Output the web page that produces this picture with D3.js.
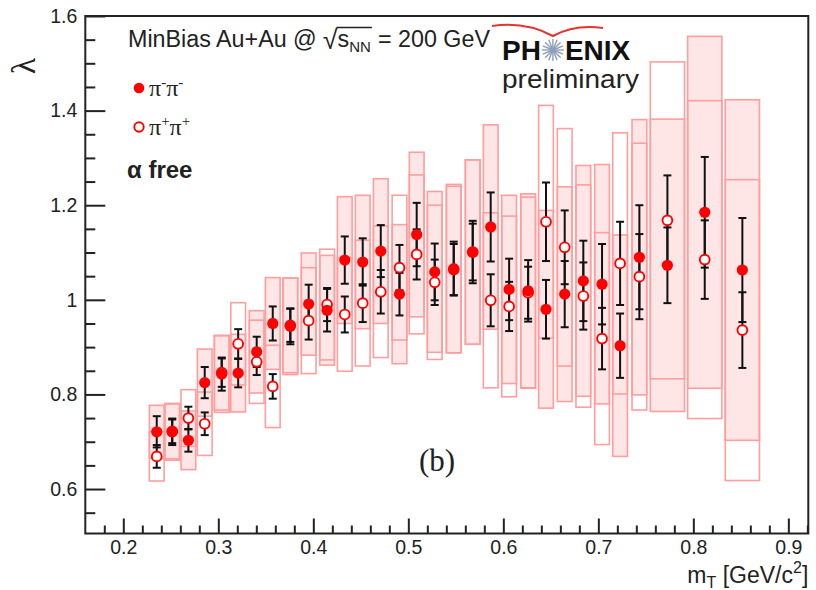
<!DOCTYPE html>
<html><head><meta charset="utf-8">
<script src="https://cdn.jsdelivr.net/npm/d3@7"></script>
<style>body{margin:0;background:#fff}svg{display:block}</style>
</head><body>
<svg id="c" width="816" height="590"></svg>
<script>
// ---- data ----
const mT = [0.2352,0.2515,0.2685,0.2857,0.3036,0.3209,0.3404,0.3573,0.3758,0.3951,0.4145,0.4331,0.452,0.471,0.4907,0.5088,0.5278,0.5478,0.5678,0.5867,0.6061,0.6261,0.6449,0.6646,0.6842,0.7039,0.7229,0.7432,0.7727,0.812,0.8516];
const binWidth = [0.0155,0.0155,0.0155,0.0155,0.0155,0.0155,0.0155,0.0155,0.0155,0.0155,0.0155,0.0155,0.0155,0.0155,0.0155,0.0155,0.0155,0.0155,0.0155,0.0155,0.0155,0.0155,0.0155,0.0155,0.0155,0.0155,0.0155,0.0155,0.036,0.036,0.036];
const lamMinus = [0.721,0.721,0.703,0.825,0.843,0.845,0.890,0.950,0.944,0.991,0.978,1.084,1.080,1.103,1.012,1.138,1.059,1.066,1.101,1.154,1.022,1.019,0.980,1.012,1.040,1.033,0.903,1.090,1.073,1.185,1.063];
const statMinus = [0.033,0.028,0.024,0.033,0.035,0.030,0.032,0.036,0.038,0.041,0.045,0.050,0.050,0.055,0.045,0.067,0.060,0.057,0.066,0.073,0.065,0.065,0.062,0.070,0.085,0.085,0.068,0.110,0.080,0.117,0.110];
const sysMinus = [0.056,0.060,0.062,0.071,0.081,0.082,0.087,0.097,0.102,0.108,0.116,0.134,0.141,0.153,0.147,0.174,0.170,0.178,0.195,0.216,0.199,0.205,0.209,0.227,0.244,0.253,0.234,0.291,0.309,0.372,0.360];
const lamPlus = [0.669,0.722,0.750,0.738,0.846,0.907,0.869,0.817,0.946,0.956,0.990,0.969,0.993,1.017,1.068,1.096,1.037,1.064,1.101,0.999,0.986,1.015,1.165,1.111,1.008,0.918,1.077,1.049,1.168,1.085,0.936];
const statPlus = [0.024,0.025,0.024,0.024,0.030,0.031,0.028,0.026,0.035,0.040,0.035,0.038,0.040,0.046,0.048,0.053,0.048,0.054,0.060,0.055,0.052,0.055,0.083,0.078,0.071,0.065,0.088,0.090,0.095,0.083,0.080];
const sysPlus = [0.052,0.058,0.060,0.067,0.079,0.087,0.088,0.087,0.100,0.112,0.117,0.120,0.133,0.139,0.153,0.168,0.163,0.176,0.195,0.185,0.191,0.202,0.246,0.251,0.235,0.224,0.276,0.282,0.335,0.336,0.318];
const xTicks = [0.2,0.3,0.4,0.5,0.6,0.7,0.8,0.9];
const yTicks = [0.6,0.8,1.0,1.2,1.4,1.6];

// ---- layout ----
const svg = d3.select("#c");
const L = 85.3, R = 808.3, T = 16, B = 533.5;
const x = d3.scaleLinear().domain([0.16, 0.921]).range([L, R]);
const y = d3.scaleLinear().domain([0.506, 1.6]).range([B, T]);
const sans = "'Liberation Sans', Arial, Helvetica, sans-serif";
const serif = "'Liberation Serif', 'Times New Roman', serif";

const pts = mT.map((m,i)=>({m, w:binWidth[i], lm:lamMinus[i], em:statMinus[i], sm:sysMinus[i], lp:lamPlus[i], ep:statPlus[i], sp:sysPlus[i]}));

const g = svg.append("g");
g.selectAll("rect.sm").data(pts).join("rect").attr("class","sm")
  .attr("x", d=>x(d.m - d.w/2)).attr("width", d=>x(d.m + d.w/2)-x(d.m - d.w/2))
  .attr("y", d=>y(d.lm + d.sm)).attr("height", d=>y(d.lm - d.sm)-y(d.lm + d.sm))
  .attr("fill","#ffe6e6").attr("stroke","#ff9e9e").attr("stroke-width",1.6);
g.selectAll("rect.sp").data(pts).join("rect").attr("class","sp")
  .attr("x", d=>x(d.m - d.w/2)).attr("width", d=>x(d.m + d.w/2)-x(d.m - d.w/2))
  .attr("y", d=>y(d.lp + d.sp)).attr("height", d=>y(d.lp - d.sp)-y(d.lp + d.sp))
  .attr("fill","none").attr("stroke","#ff9e9e").attr("stroke-width",1.6);

function errBars(key, ek){
  const eg = g.append("g").attr("stroke","#111").attr("stroke-width",2);
  pts.forEach(d=>{
    const cx = x(d.m), y1 = y(d[key]+d[ek]), y2 = y(d[key]-d[ek]);
    eg.append("line").attr("x1",cx).attr("x2",cx).attr("y1",y1).attr("y2",y2);
    eg.append("line").attr("x1",cx-4).attr("x2",cx+4).attr("y1",y1).attr("y2",y1);
    eg.append("line").attr("x1",cx-4).attr("x2",cx+4).attr("y1",y2).attr("y2",y2);
  });
}
errBars("lp","ep");
errBars("lm","em");

g.selectAll("circle.p").data(pts).join("circle").attr("class","p")
  .attr("cx", d=>x(d.m)).attr("cy", d=>y(d.lp)).attr("r",4.9)
  .attr("fill","#fff").attr("stroke","#f00").attr("stroke-width",1.9);
g.selectAll("circle.m").data(pts).join("circle").attr("class","m")
  .attr("cx", d=>x(d.m)).attr("cy", d=>y(d.lm)).attr("r",5.6)
  .attr("fill","#f00");

// ---- axes ----
const ax = svg.append("g");
ax.append("g").attr("transform",`translate(${L},0)`)
  .call(d3.axisLeft(y).tickValues(yTicks).tickSizeInner(-20).tickSizeOuter(0).tickPadding(8)
    .tickFormat(d=> d===1 ? "1" : d3.format(".1f")(d)));
const yMinor = d3.range(0.55, 1.6, 0.05).filter(v=>Math.abs(v*5-Math.round(v*5))>1e-6);
ax.append("g").attr("transform",`translate(${L},0)`)
  .call(d3.axisLeft(y).tickValues(yMinor).tickSizeInner(-10).tickSizeOuter(0).tickFormat(""));
ax.append("g").attr("transform",`translate(0,${B})`)
  .call(d3.axisBottom(x).tickValues(xTicks).tickSizeInner(-15).tickSizeOuter(0).tickPadding(7)
    .tickFormat(d3.format(".1f")));
const xMinor = d3.range(0.18, 0.921, 0.02).filter(v=>Math.abs(v*10-Math.round(v*10))>1e-6);
ax.append("g").attr("transform",`translate(0,${B})`)
  .call(d3.axisBottom(x).tickValues(xMinor).tickSizeInner(-8).tickSizeOuter(0).tickFormat(""));
ax.selectAll(".domain").remove();
ax.selectAll(".tick line").attr("stroke","#222").attr("stroke-width",2);
ax.selectAll(".tick text").attr("font-family",sans).attr("font-size",19.5).attr("fill","#222");

svg.append("rect").attr("x",L).attr("y",T).attr("width",R-L).attr("height",B-T)
  .attr("fill","none").attr("stroke","#222").attr("stroke-width",2);

// axis titles
const xt = svg.append("text").attr("x",R).attr("y",583).attr("text-anchor","end")
  .attr("font-family",sans).attr("font-size",23).attr("fill","#222");
xt.append("tspan").text("m");
xt.append("tspan").attr("font-size",16).attr("dy",5).text("T");
xt.append("tspan").attr("dy",-5).text(" [GeV/c");
xt.append("tspan").attr("font-size",16).attr("dy",-10).text("2");
xt.append("tspan").attr("dy",10).text("]");

svg.append("text").attr("transform","translate(35,66) rotate(-90)").attr("text-anchor","middle")
  .attr("font-family",serif).attr("font-size",34).attr("fill","#222").text("λ");

// header text built piecewise
function piece(txt, px, py, size){
  const t = svg.append("text").attr("x",px).attr("y",py).attr("font-family",sans).attr("font-size",size).attr("fill","#222").text(txt);
  return px + t.node().getComputedTextLength();
}
let hx = 128; const hy = 47;
hx = piece("MinBias Au+Au @", hx, hy, 23.3) + 6;
hx = piece("√", hx, hy+2, 27);
const ovX = hx - 1;
hx = piece("s", hx, hy, 23.3);
hx = piece("NN", hx, hy+5, 15);
svg.append("line").attr("x1",ovX).attr("x2",hx+1).attr("y1",27.5).attr("y2",27.5).attr("stroke","#222").attr("stroke-width",1.3);
hx = piece("= 200 GeV", hx+7, hy, 23.3);

// legend
svg.append("circle").attr("cx",139).attr("cy",88).attr("r",5.3).attr("fill","#f00");
const l1 = svg.append("text").attr("x",149).attr("y",96).attr("font-family",serif).attr("font-size",24).attr("fill","#222");
l1.append("tspan").text("π"); l1.append("tspan").attr("font-size",15).attr("dy",-9).text("-");
l1.append("tspan").attr("dy",9).text("π"); l1.append("tspan").attr("font-size",15).attr("dy",-9).text("-");
svg.append("circle").attr("cx",139).attr("cy",127).attr("r",4.7).attr("fill","#fff").attr("stroke","#f00").attr("stroke-width",1.9);
const l2 = svg.append("text").attr("x",149).attr("y",135).attr("font-family",serif).attr("font-size",24).attr("fill","#222");
l2.append("tspan").text("π"); l2.append("tspan").attr("font-size",15).attr("dy",-9).text("+");
l2.append("tspan").attr("dy",9).text("π"); l2.append("tspan").attr("font-size",15).attr("dy",-9).text("+");
svg.append("text").attr("x",127).attr("y",178).attr("font-family",sans).attr("font-size",24).attr("font-weight","bold").attr("fill","#222").text("α free");

// PHENIX logo
const ph = svg.append("text").attr("x",502).attr("y",60).attr("font-family",sans).attr("font-size",28).attr("font-weight","bold").attr("fill","#111").text("PH");
const phw = ph.node().getComputedTextLength();
const sx = 502 + phw + 12, sy = 50;
const sun = svg.append("g").attr("stroke","#8d9fb8").attr("stroke-width",1.4);
d3.range(16).forEach(k=>{ const a = k*Math.PI/8; sun.append("line")
  .attr("x1",sx+2*Math.cos(a)).attr("y1",sy+2*Math.sin(a)).attr("x2",sx+11*Math.cos(a)).attr("y2",sy+11*Math.sin(a)); });
svg.append("circle").attr("cx",sx).attr("cy",sy).attr("r",2.8).attr("fill","#8d9fb8");
const en = svg.append("text").attr("x",sx+12).attr("y",60).attr("font-family",sans).attr("font-size",28).attr("font-weight","bold").attr("fill","#111").text("ENIX");
svg.append("text").attr("x",502).attr("y",88).attr("font-family",sans).attr("font-size",26).attr("fill","#222")
  .attr("textLength",137).attr("lengthAdjust","spacingAndGlyphs").text("preliminary");
svg.append("path").attr("d",`M492,26 Q525,21 ${sx},36 Q${sx+22},24 603,28`).attr("fill","none").attr("stroke","#e8322f").attr("stroke-width",2);

// (b)
svg.append("text").attr("x",437).attr("y",471).attr("text-anchor","middle").attr("font-family",serif).attr("font-size",31).attr("fill","#222").text("(b)");
</script>
</body></html>
